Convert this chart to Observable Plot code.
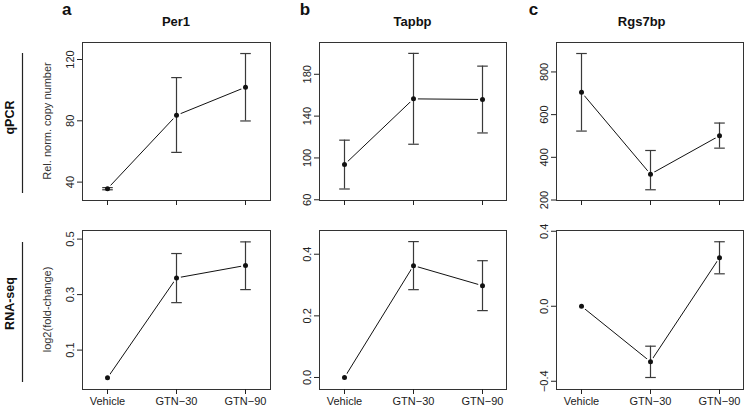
<!DOCTYPE html>
<html><head><meta charset="utf-8">
<script src="https://cdn.jsdelivr.net/npm/d3@7"></script>
<script src="https://cdn.jsdelivr.net/npm/@observablehq/plot@0.6"></script>
<style>
html,body{margin:0;padding:0;background:#fff;}
#chart{position:relative;width:745px;height:407px;overflow:hidden;font-family:"Liberation Sans",Arial,Helvetica,sans-serif;}
#chart svg{position:absolute;}
</style></head><body><div id="chart"></div>
<script>
// ---- data ----
const conditions = ["Vehicle", "GTN-30", "GTN-90"];
const conditionLabels = ["Vehicle", "GTN\u221230", "GTN\u221290"];
const genes = ["Per1", "Tapbp", "Rgs7bp"];
const panelLetters = ["a", "b", "c"];
const assays = ["qPCR", "RNA-seq"];
const yTitles = ["Rel. norm. copy number", "log2(fold-change)"];

// qPCR (relative normalised copy number): mean, lower, upper
const per1QpcrMean = [35.7, 83.6, 101.9];
const per1QpcrLow = [35.0, 59.4, 79.9];
const per1QpcrHigh = [36.4, 108.2, 123.9];
const tapbpQpcrMean = [93.7, 156.5, 155.9];
const tapbpQpcrLow = [70.3, 113.1, 123.9];
const tapbpQpcrHigh = [117.0, 200.0, 187.8];
const rgs7bpQpcrMean = [704.7, 321, 501];
const rgs7bpQpcrLow = [523, 248, 443];
const rgs7bpQpcrHigh = [886.4, 432, 560.6];

// RNA-seq log2(fold-change): mean, lower, upper (Vehicle has no bar)
const per1RnaMean = [0.0, 0.360, 0.405];
const per1RnaLow = [null, 0.271, 0.318];
const per1RnaHigh = [null, 0.448, 0.490];
const tapbpRnaMean = [0.0, 0.363, 0.298];
const tapbpRnaLow = [null, 0.285, 0.217];
const tapbpRnaHigh = [null, 0.441, 0.379];
const rgs7bpRnaMean = [0.0, -0.296, 0.259];
const rgs7bpRnaLow = [null, -0.380, 0.173];
const rgs7bpRnaHigh = [null, -0.213, 0.344];

// tick values
const per1QpcrTicks = [40, 80, 120];
const tapbpQpcrTicks = [60, 100, 140, 180];
const rgs7bpQpcrTicks = [200, 400, 600, 800];
const per1RnaTicks = [0.1, 0.3, 0.5];
const tapbpRnaTicks = [0.0, 0.2, 0.4];
const rgs7bpRnaTicks = [-0.4, 0.0, 0.4];

// ---- layout ----
const colX = [82, 319, 556];
const colW = [188, 187, 187];
const rowY = [42, 230];
const rowH = [158, 159];

const panels = [
  {mean: per1QpcrMean, low: per1QpcrLow, high: per1QpcrHigh, ticks: per1QpcrTicks, domain: [28.0, 131.1], col: 0, row: 0},
  {mean: tapbpQpcrMean, low: tapbpQpcrLow, high: tapbpQpcrHigh, ticks: tapbpQpcrTicks, domain: [59.3, 210.4], col: 1, row: 0},
  {mean: rgs7bpQpcrMean, low: rgs7bpQpcrLow, high: rgs7bpQpcrHigh, ticks: rgs7bpQpcrTicks, domain: [197.7, 938], col: 2, row: 0},
  {mean: per1RnaMean, low: per1RnaLow, high: per1RnaHigh, ticks: per1RnaTicks, domain: [-0.042, 0.531], col: 0, row: 1},
  {mean: tapbpRnaMean, low: tapbpRnaLow, high: tapbpRnaHigh, ticks: tapbpRnaTicks, domain: [-0.039, 0.477], col: 1, row: 1},
  {mean: rgs7bpRnaMean, low: rgs7bpRnaLow, high: rgs7bpRnaHigh, ticks: rgs7bpRnaTicks, domain: [-0.444, 0.404], col: 2, row: 1}
];

// horizontal-line symbol for error-bar caps
const capSymbol = {
  draw(context, size) {
    const r = Math.sqrt(size / Math.PI);
    context.moveTo(-r, 0);
    context.lineTo(r, 0);
  }
};

const chart = document.getElementById("chart");
const fontFamily = '"Liberation Sans", Arial, Helvetica, sans-serif';

panels.forEach(p => {
  const rows = conditions.map((c, i) => ({cond: c, mean: p.mean[i], low: p.low[i], high: p.high[i]}));
  const bars = rows.filter(d => d.low != null && d.high != null);
  const showX = p.row === 1;
  const mL = 45, mT = 8, mR = 3, mB = showX ? 20 : 10;
  const w = colW[p.col], h = rowH[p.row];
  const fmt = p.row === 0 ? (d => String(d)) : (d => d.toFixed(1).replace("-", "\u2212"));
  const errStyle = {stroke: "#3a3a3a", strokeWidth: 1.2};
  const svg = Plot.plot({
    width: w + mL + mR,
    height: h + mT + mB,
    marginLeft: mL, marginTop: mT, marginRight: mR, marginBottom: mB,
    style: {background: "none", fontFamily, fontSize: "11px", color: "#222", overflow: "visible"},
    x: {type: "point", domain: conditions, padding: 0.353, label: null},
    y: {domain: p.domain, label: null},
    marks: [
      Plot.frame({stroke: "#333", strokeWidth: 1}),
      Plot.axisX({ticks: conditions, tickSize: 5, tickPadding: 3, label: null,
        tickFormat: showX ? (d => conditionLabels[conditions.indexOf(d)]) : (() => "")}),
      Plot.axisY({ticks: p.ticks, tickSize: 5, tickRotate: -90, tickFormat: fmt, label: null}),
      Plot.line(rows, {x: "cond", y: "mean", stroke: "#111", strokeWidth: 1}),
      Plot.dot(rows, {x: "cond", y: "mean", r: 4.5, fill: "white"}),
      Plot.ruleX(bars, {x: "cond", y1: "low", y2: "high", ...errStyle}),
      Plot.dot(bars, {x: "cond", y: "low", r: 5.3, symbol: capSymbol, fill: "none", ...errStyle}),
      Plot.dot(bars, {x: "cond", y: "high", r: 5.3, symbol: capSymbol, fill: "none", ...errStyle}),
      Plot.dot(rows, {x: "cond", y: "mean", r: 2.5, fill: "#111"})
    ]
  });
  svg.style.left = (colX[p.col] - mL) + "px";
  svg.style.top = (rowY[p.row] - mT) + "px";
  chart.appendChild(svg);
});

// ---- overlay text ----
const ov = d3.select(chart).append("svg")
  .attr("width", 745).attr("height", 407)
  .style("left", "0px").style("top", "0px")
  .style("pointer-events", "none")
  .attr("font-family", fontFamily);

const letterPos = [[66.7, 15], [305, 15], [533.5, 14.5]];
const titleX = [176, 412.5, 641.7];
panelLetters.forEach((l, i) => {
  ov.append("text").attr("x", letterPos[i][0]).attr("y", letterPos[i][1])
    .attr("text-anchor", "middle").attr("font-weight", "bold").attr("font-size", 17).attr("fill", "#111").text(l);
  ov.append("text").attr("x", titleX[i]).attr("y", 26)
    .attr("text-anchor", "middle").attr("font-weight", "bold").attr("font-size", 13).attr("fill", "#111").text(genes[i]);
});

const rowCenters = [117.5, 303.5];
const rowLines = [[53, 193], [242, 382]];
assays.forEach((a, i) => {
  ov.append("text").attr("transform", `translate(9.5,${rowCenters[i]}) rotate(-90)`)
    .attr("text-anchor", "middle").attr("dominant-baseline", "central")
    .attr("font-weight", "bold").attr("font-size", 12.5).attr("fill", "#111").text(a);
  ov.append("line").attr("x1", 22.5).attr("x2", 22.5)
    .attr("y1", rowLines[i][0]).attr("y2", rowLines[i][1])
    .attr("stroke", "#222").attr("stroke-width", 1.2);
  ov.append("text").attr("transform", `translate(46.7,${rowY[i] + rowH[i] / 2}) rotate(-90)`)
    .attr("text-anchor", "middle").attr("dominant-baseline", "central")
    .attr("font-size", 11).attr("fill", "#333").text(yTitles[i]);
});
</script>
</body></html>
